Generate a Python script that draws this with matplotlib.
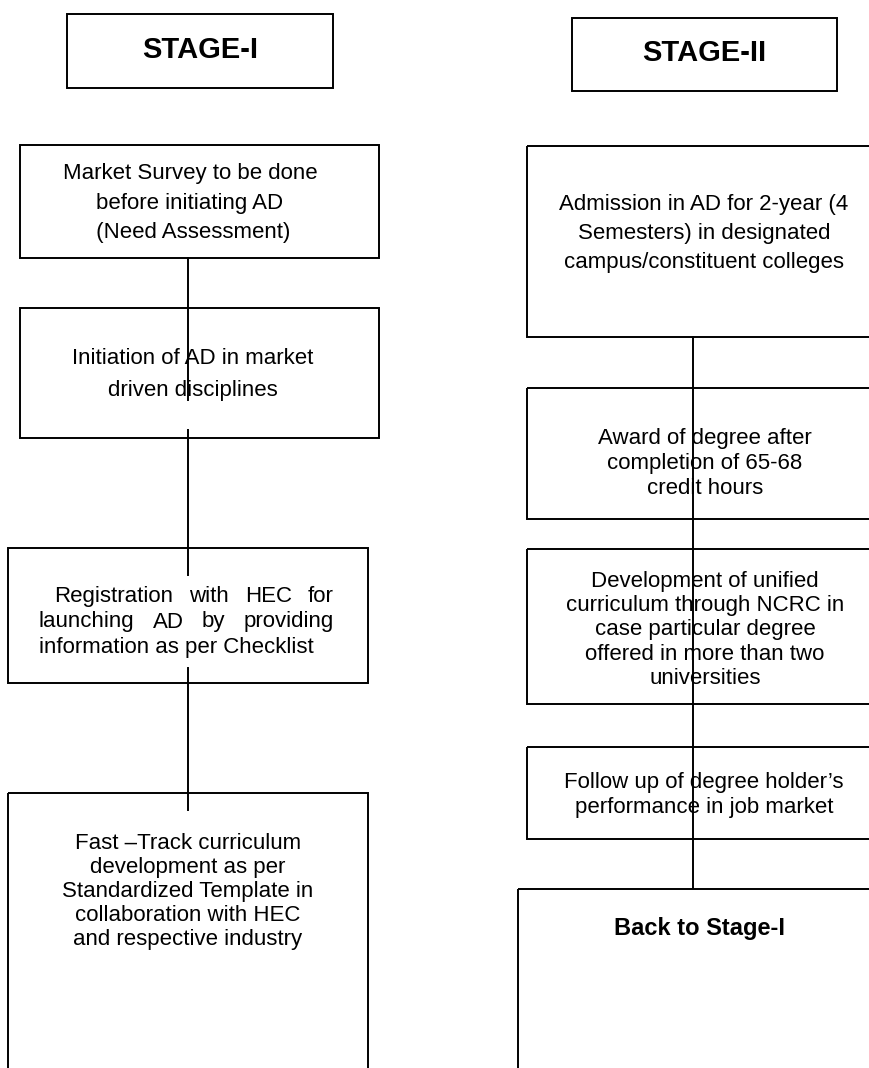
import matplotlib.pyplot as plt
from matplotlib.patches import Rectangle

# TEXT OF THE FLOWCHART
stage_titles = ["STAGE-I", "STAGE-II"]

left_steps = [
    ["Market Survey to be done", "before initiating AD", " (Need Assessment)"],
    ["Initiation of AD in market", "driven disciplines"],
    ["Registration with HEC for", "launching AD by providing",
     "information as per Checklist"],
    ["Fast \u2013Track curriculum", "development as per",
     "Standardized Template in", "collaboration with HEC",
     "and respective industry"],
]

right_steps = [
    ["Admission in AD for 2-year (4", "Semesters) in designated",
     "campus/constituent colleges"],
    ["Award of degree after", "completion of 65-68", "credit hours"],
    ["Development of unified", "curriculum through NCRC in",
     "case particular degree", "offered in more than two", "universities"],
    ["Follow up of degree holder\u2019s", "performance in job market"],
]
back_label = "Back to Stage-I"

# LAYOUT (pixels, y downwards)
W, H = 870, 1068
title_boxes = [(67, 14, 333, 88), (572, 18, 837, 91)]
title_pos = [(200, 50), (704, 53)]

left_boxes = [(20, 145, 379, 258), (20, 308, 379, 438),
              (8, 548, 368, 683), (8, 793, 368, 1080)]
left_text = [(190, 171, 29.5), (193, 356, 32), (None, 594, 25.5), (188, 841, 24)]
left_links = [(258, 400), (430, 575), (668, 810)]
left_x = 188

right_boxes = [(527, 146, 880, 337), (527, 388, 880, 519),
               (527, 549, 880, 704), (527, 747, 880, 839)]
right_text = [(704, 202, 29), (705, 436, 25), (705, 579, 24.2), (704, 780, 25)]
back_box = (518, 889, 880, 1080)
back_pos = (700, 929)
right_x = 693
right_link = (337, 888)

font = 'Liberation Sans'
lw = 1.4

fig = plt.figure(figsize=(W / 100, H / 100), dpi=100)
ax = fig.add_axes([0, 0, 1, 1])
ax.set_xlim(0, W)
ax.set_ylim(H, 0)
ax.axis('off')


def caja(b):
    x0, y0, x1, y1 = b
    ax.add_patch(Rectangle((x0, y0), x1 - x0, y1 - y0, fill=False,
                           edgecolor='black', linewidth=lw))


def lineas(lines, cx, y, dy):
    for i, s in enumerate(lines):
        ax.text(cx, y + i * dy + 8, s, ha='center', va='baseline',
                fontsize=16, family=font)


def justificado(words, x0, x1, y):
    r = fig.canvas.get_renderer()
    objs = [ax.text(x0, y, w, ha='left', va='baseline', fontsize=16,
                    family=font) for w in words]
    widths = [t.get_window_extent(r).width for t in objs]
    gap = (x1 - x0 - sum(widths)) / (len(words) - 1)
    x = x0
    for t, w in zip(objs, widths):
        t.set_x(x)
        x += w + gap


# Titulos
for b, (tx, ty), s in zip(title_boxes, title_pos, stage_titles):
    caja(b)
    ax.text(tx, ty, s, ha='center', va='center', fontsize=21,
            fontweight='bold', family=font)

# Columna izquierda
for b, lines, (cx, y, dy) in zip(left_boxes, left_steps, left_text):
    caja(b)
    if cx is None:
        # texto justificado
        justificado(lines[0].split(), 54, 334, y + 8)
        justificado(lines[1].split(), 39, 334, y + dy + 8)
        ax.text(39, y + 2 * dy + 8, lines[2], ha='left', va='baseline',
                fontsize=16, family=font)
    else:
        lineas(lines, cx, y, dy)

for y0, y1 in left_links:
    ax.plot([left_x, left_x], [y0, y1], color='black', linewidth=lw)

# Columna derecha
for b, lines, (cx, y, dy) in zip(right_boxes, right_steps, right_text):
    caja(b)
    lineas(lines, cx, y, dy)

caja(back_box)
ax.text(back_pos[0], back_pos[1], back_label, ha='center', va='center',
        fontsize=17, fontweight='bold', family=font)

ax.plot([right_x, right_x], list(right_link), color='black', linewidth=lw)

fig.savefig('out.png', dpi=100)
